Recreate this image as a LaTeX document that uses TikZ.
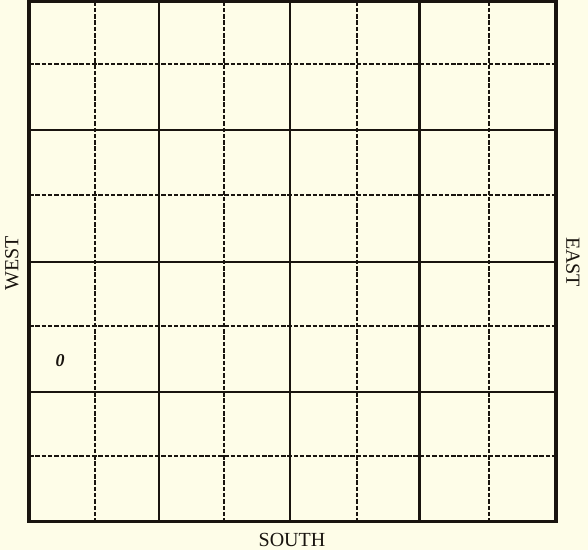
\documentclass[tikz,border=0pt]{standalone}
\usepackage{fontspec}
\setmainfont{Liberation Serif}
\definecolor{paper}{RGB}{254,253,232}
\definecolor{ink}{RGB}{25,20,15}
\begin{document}
\begin{tikzpicture}[x=1pt,y=-1pt,
  border/.style={draw=ink,line width=3.2pt,line cap=rect},
  solidline/.style={draw=ink,line width=2.1pt},
  dashline/.style={draw=ink,line width=1.6pt,dash pattern=on 4.5pt off 1.8pt},
  lbl/.style={font=\fontsize{20}{22}\selectfont,text=ink,inner sep=0pt}]
\fill[paper] (0,0) rectangle (588,550);
\useasboundingbox (0,0) rectangle (588,550);
% inner lines
\foreach \x in {95,224,357,489} \draw[dashline] (\x,1.5) -- (\x,521.5);
\foreach \y in {64,195,326,456} \draw[dashline] (29,\y) -- (556,\y);
\foreach \x in {159,290,419.5} \draw[solidline] (\x,1.5) -- (\x,521.5);
\foreach \y in {130,262,392} \draw[solidline] (29,\y) -- (556,\y);
% frame
\draw[border] (29,1.5) rectangle (556,521.5);
% labels
\node[lbl] (south) at (292,539.5) {SOUTH};
\node[lbl,rotate=90] (west) at (12,263) {WEST};
\node[lbl,rotate=-90] (east) at (573,262) {EAST};
\node[text=ink,inner sep=0pt,font=\fontsize{18}{20}\selectfont\bfseries\itshape] (zero) at (60,361) {0};
\end{tikzpicture}
\end{document}
